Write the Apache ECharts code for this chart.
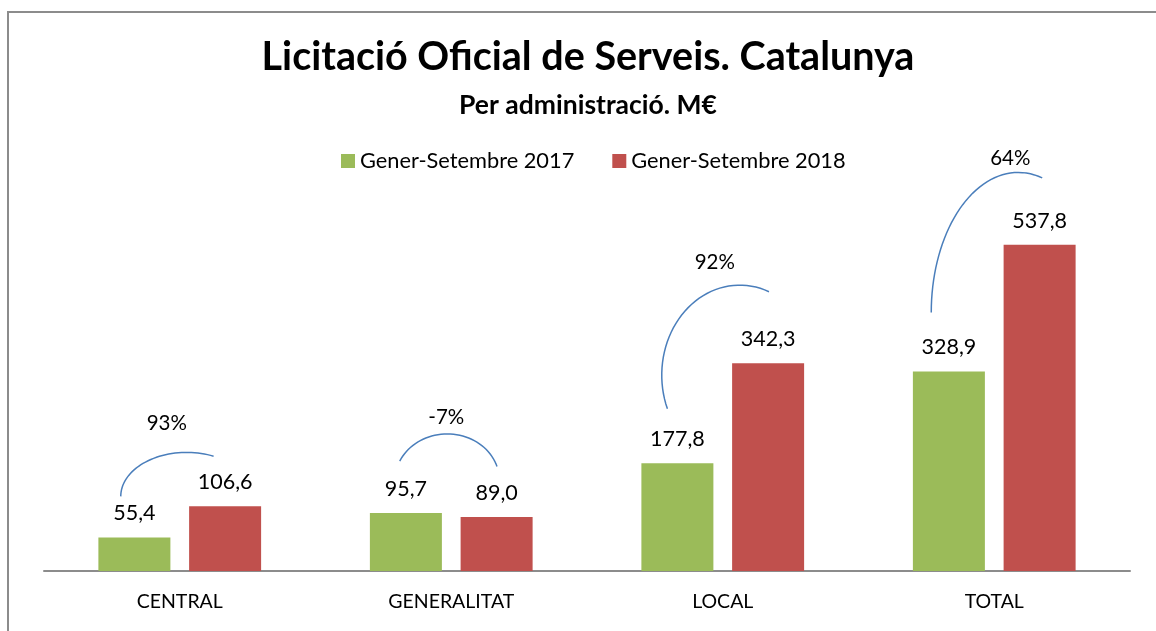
<!DOCTYPE html>
<html>
<head>
<meta charset="utf-8">
<title>Licitació Oficial de Serveis. Catalunya</title>
<script src="https://cdn.jsdelivr.net/npm/echarts@6/dist/echarts.min.js"></script>
<style>
  html, body { margin: 0; padding: 0; background: #fff; }
  #chart { width: 1156px; height: 631px; }
</style>
</head>
<body>
<div id="chart"></div>
<script>
// dades
var categories = ['CENTRAL', 'GENERALITAT', 'LOCAL', 'TOTAL'];
var values2017 = [55.4, 95.7, 177.8, 328.9];
var values2018 = [106.6, 89.0, 342.3, 537.8];
var pctLabels = ['93%', '-7%', '92%', '64%'];

// forma de cada arc (px, respecte al centre de categoria i al cim de la barra verda)
var arcShapes = [
  { dx: 7, dy: -41, rx: 66, ry: 44, a0: 180, a1: 66, lx: -20, ly: -29 },
  { dx: -4, dy: -33, rx: 52, ry: 46, a0: 156, a1: 17, lx: -1, ly: -17 },
  { dx: 17, dy: -88, rx: 78, ry: 90, a0: 202, a1: 68, lx: -25, ly: -23 },
  { dx: 24, dy: -59, rx: 87, ry: 140, a0: 180, a1: 74, lx: -8, ly: -14 }
];

var FONT = 'Lato, "Open Sans", sans-serif';

function fmt(v) {
  return v.toFixed(1).replace('.', ',');
}

var chart = echarts.init(document.getElementById('chart'));

chart.setOption({
  backgroundColor: '#fff',
  animation: false,
  title: [
    {
      text: 'Licitació Oficial de Serveis. Catalunya',
      left: 583,
      textAlign: 'center',
      top: 32,
      textStyle: { fontFamily: FONT, fontSize: 39.5, fontWeight: 'bold', color: '#000' }
    },
    {
      text: 'Per administració. M€',
      left: 583,
      textAlign: 'center',
      top: 87,
      textStyle: { fontFamily: FONT, fontSize: 26.5, fontWeight: 'bold', color: '#000' }
    }
  ],
  legend: {
    data: ['Gener-Setembre 2017', 'Gener-Setembre 2018'],
    left: 336,
    top: 145,
    icon: 'rect',
    itemWidth: 14,
    itemHeight: 14,
    itemGap: 38,
    textStyle: { fontFamily: FONT, fontSize: 21.8, color: '#000' }
  },
  grid: { left: 44, right: 26, top: 207, bottom: 60 },
  xAxis: {
    type: 'category',
    data: categories,
    axisLine: { lineStyle: { color: '#8c8c8c', width: 2 } },
    axisTick: { show: false },
    axisLabel: { fontFamily: FONT, fontSize: 19.5, color: '#000', margin: 21 }
  },
  yAxis: {
    type: 'value',
    min: 0,
    max: 600,
    show: false,
    splitLine: { show: false }
  },
  graphic: [
    {
      type: 'polyline',
      silent: true,
      shape: { points: [[8, 640], [8, 12], [1160, 12]] },
      style: { stroke: '#8c8c8c', lineWidth: 2, fill: null }
    }
  ],
  series: [
    {
      name: 'Gener-Setembre 2017',
      type: 'bar',
      data: values2017,
      barWidth: 72,
      barGap: '26%',
      itemStyle: { color: '#9bbb59' },
      label: {
        show: true,
        position: 'top',
        distance: 13,
        fontFamily: FONT,
        fontSize: 21.5,
        color: '#000',
        formatter: function (p) { return fmt(p.value); }
      }
    },
    {
      name: 'Gener-Setembre 2018',
      type: 'bar',
      data: values2018,
      barWidth: 72,
      itemStyle: { color: '#c0504d' },
      label: {
        show: true,
        position: 'top',
        distance: 13,
        fontFamily: FONT,
        fontSize: 21.5,
        color: '#000',
        formatter: function (p) { return fmt(p.value); }
      }
    },
    {
      // arcs de variació
      name: 'variacio',
      type: 'custom',
      z: 5,
      silent: true,
      clip: false,
      encode: { x: 0, y: 1 },
      data: categories.map(function (c, i) { return [i, values2017[i], pctLabels[i]]; }),
      renderItem: function (params, api) {
        var i = params.dataIndex;
        var s = arcShapes[i];
        var p = api.coord([api.value(0), api.value(1)]);
        var cx = p[0] + s.dx;
        var cy = p[1] + s.dy;
        var pts = [];
        var n = 40;
        for (var k = 0; k <= n; k++) {
          var a = (s.a0 + (s.a1 - s.a0) * k / n) * Math.PI / 180;
          pts.push([cx + s.rx * Math.cos(a), cy - s.ry * Math.sin(a)]);
        }
        return {
          type: 'group',
          children: [
            {
              type: 'polyline',
              shape: { points: pts },
              style: { stroke: '#4a7ebb', lineWidth: 1.5, fill: null }
            },
            {
              type: 'text',
              x: cx + s.lx,
              y: cy - s.ry + s.ly,
              style: {
                text: pctLabels[i],
                fontFamily: FONT,
                fontSize: 20.5,
                fill: '#000',
                align: 'center',
                verticalAlign: 'middle'
              }
            }
          ]
        };
      }
    }
  ]
});
</script>
</body>
</html>
